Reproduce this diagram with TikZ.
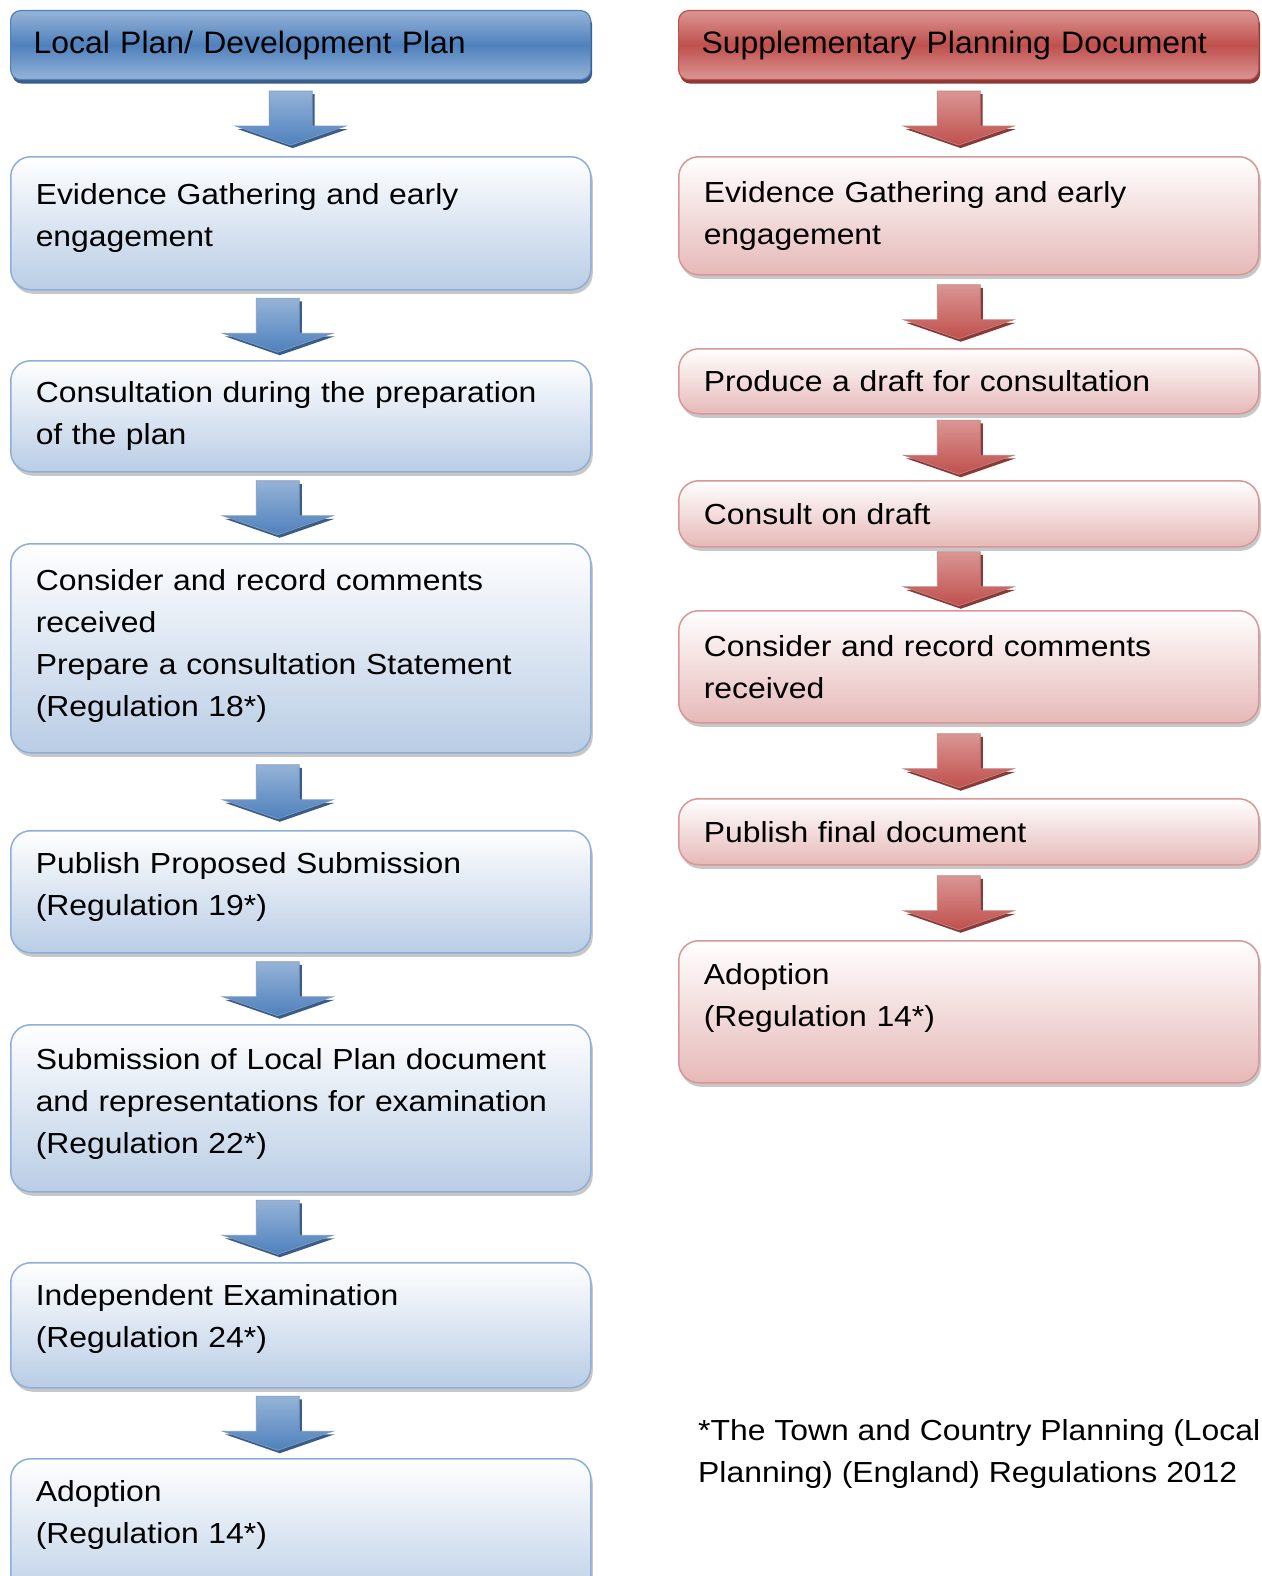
\documentclass[tikz,border=0pt]{standalone}
\usepackage{fontspec}
\setmainfont{Liberation Sans}
\newfontfamily\bodyfont{Liberation Sans}[FakeStretch=1.1]
\newfontfamily\hdfont{Liberation Sans}[FakeStretch=1.03]
\usetikzlibrary{shadows,calc}
\definecolor{bluehd}{HTML}{4F81BD}
\definecolor{bluelt}{HTML}{95B3D7}
\definecolor{bluedk}{HTML}{385D8A}
\definecolor{boxblue}{HTML}{B9CDE5}
\definecolor{boxblueline}{HTML}{8EAEDA}
\definecolor{redhd}{HTML}{C0504D}
\definecolor{redlt}{HTML}{DA9694}
\definecolor{reddk}{HTML}{8C3836}
\definecolor{boxred}{HTML}{E6B9B8}
\definecolor{boxredline}{HTML}{D99694}
\tikzset{
  hdr/.style={rounded corners=10pt, minimum height=69pt, text width=534pt, inner xsep=23pt,
    align=left, anchor=north west, font=\hdfont\fontsize{31}{38}\selectfont, line width=1.2pt},
  lhdr/.style={hdr, draw=bluehd, top color=bluelt, bottom color=bluelt, middle color=bluehd,
    drop shadow={shadow xshift=1.5pt, shadow yshift=-4pt, fill=bluedk, opacity=1}},
  rhdr/.style={hdr, draw=redhd, top color=redlt, bottom color=redlt, middle color=redhd,
    drop shadow={shadow xshift=1.5pt, shadow yshift=-4pt, fill=reddk, opacity=1}},
  stepbox/.style={rounded corners=20pt, text width=530pt, inner xsep=25pt, align=left,
    anchor=north west, font=\bodyfont\fontsize{29}{42}\selectfont, line width=1.5pt},
  lbox/.style={stepbox, draw=boxblueline, top color=white, bottom color=boxblue,
    drop shadow={shadow xshift=2pt, shadow yshift=-4pt, fill=gray!80, opacity=.55}},
  rbox/.style={stepbox, draw=boxredline, top color=white, bottom color=boxred,
    drop shadow={shadow xshift=2pt, shadow yshift=-4pt, fill=gray!80, opacity=.55}},
  foot/.style={align=left, anchor=north west, inner sep=0pt, font=\bodyfont\fontsize{29}{42}\selectfont},
  pics/blockarrow/.style n args={3}{code={
    \fill[#3] (-19,-24) -- (24,-24) -- (24,11) -- (57,11) -- (2,30) -- (-53,11) -- (-19,11) -- cycle;
    \path[draw=#1!85!black, line width=0.8pt, top color=#1, bottom color=#2]
      (-21.5,-27) -- (21.5,-27) -- (21.5,8) -- (55,8) -- (0,27) -- (-55,8) -- (-21.5,8) -- cycle;
  }}
}
\begin{document}
\begin{tikzpicture}[x=1pt,y=-1pt]
\useasboundingbox (0,0) rectangle (1261,1576);
\clip (0,0) rectangle (1261,1576);
% left column
\node[lhdr] (L0) at (10,10) {Local Plan/ Development Plan};
\node[lbox, minimum height=133pt, text depth=59pt] (L1) at (10,156) {Evidence Gathering and early\\engagement};
\node[lbox, minimum height=111pt] (L2) at (10,360) {Consultation during the preparation\\of the plan};
\node[lbox, minimum height=209pt, text depth=137pt] (L3) at (10,543) {Consider and record comments\\received\\Prepare a consultation Statement\\(Regulation 18*)};
\node[lbox, minimum height=122pt, text depth=58pt] (L4) at (10,830) {Publish Proposed Submission\\(Regulation 19*)};
\node[lbox, minimum height=167pt, text depth=98pt] (L5) at (10,1024) {Submission of Local Plan document\\and representations for examination\\(Regulation 22*)};
\node[lbox, minimum height=125pt, text depth=61pt] (L6) at (10,1262) {Independent Examination\\(Regulation 24*)};
\node[lbox, minimum height=150pt, text depth=86pt] (L7) at (10,1458) {Adoption\\(Regulation 14*)};
% right column
\node[rhdr] (R0) at (678,10) {Supplementary Planning Document};
\node[rbox, minimum height=118pt] (R1) at (678,156) {Evidence Gathering and early\\engagement};
\node[rbox, minimum height=65pt] (R2) at (678,348) {Produce a draft for consultation};
\node[rbox, minimum height=66pt] (R3) at (678,480) {Consult on draft};
\node[rbox, minimum height=112pt] (R4) at (678,610) {Consider and record comments\\received};
\node[rbox, minimum height=66pt] (R5) at (678,798) {Publish final document};
\node[rbox, minimum height=142pt, text depth=76pt] (R6) at (678,940) {Adoption\\(Regulation 14*)};
% footnote
\node[foot] (fn) at (698,1419) {*The Town and Country Planning (Local\\Planning) (England) Regulations 2012};
% arrows
\pic at ($(L0.south)!.5!(L1.north)+(-10,0)$) {blockarrow={bluelt}{bluehd}{bluedk}};
\pic at ($(L1.south)!.5!(L2.north)+(-23,0)$) {blockarrow={bluelt}{bluehd}{bluedk}};
\pic at ($(L2.south)!.5!(L3.north)+(-23,0)$) {blockarrow={bluelt}{bluehd}{bluedk}};
\pic at ($(L3.south)!.5!(L4.north)+(-23,0)$) {blockarrow={bluelt}{bluehd}{bluedk}};
\pic at ($(L4.south)!.5!(L5.north)+(-23,0)$) {blockarrow={bluelt}{bluehd}{bluedk}};
\pic at ($(L5.south)!.5!(L6.north)+(-23,0)$) {blockarrow={bluelt}{bluehd}{bluedk}};
\pic at ($(L6.south)!.5!(L7.north)+(-23,0)$) {blockarrow={bluelt}{bluehd}{bluedk}};
\pic at ($(R0.south)!.5!(R1.north)+(-10,0)$) {blockarrow={redlt}{redhd}{reddk}};
\pic at ($(R1.south)!.5!(R2.north)+(-10,0)$) {blockarrow={redlt}{redhd}{reddk}};
\pic at ($(R2.south)!.5!(R3.north)+(-10,0)$) {blockarrow={redlt}{redhd}{reddk}};
\pic at ($(R3.south)!.5!(R4.north)+(-10,0)$) {blockarrow={redlt}{redhd}{reddk}};
\pic at ($(R4.south)!.5!(R5.north)+(-10,0)$) {blockarrow={redlt}{redhd}{reddk}};
\pic at ($(R5.south)!.5!(R6.north)+(-10,0)$) {blockarrow={redlt}{redhd}{reddk}};
\end{tikzpicture}
\end{document}
